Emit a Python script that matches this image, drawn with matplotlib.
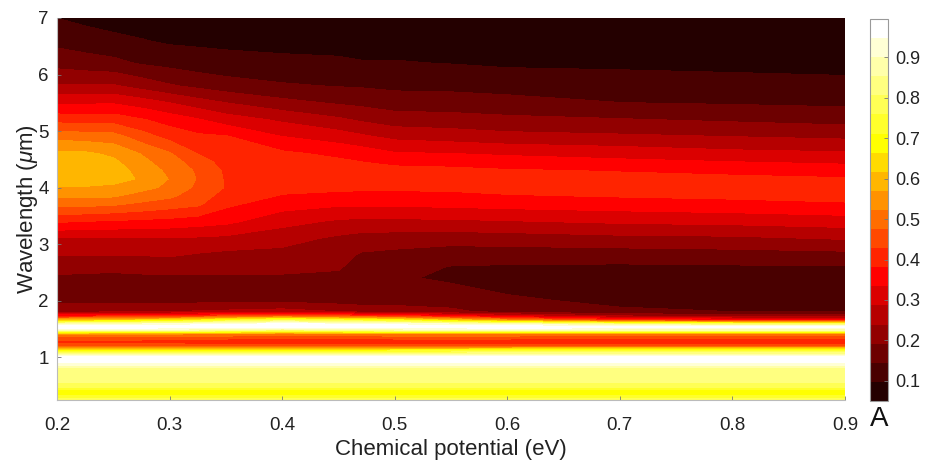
import numpy as np
import matplotlib
matplotlib.use('Agg')
import matplotlib.pyplot as plt

plt.rcParams['font.family'] = ['Liberation Sans', 'DejaVu Sans']
plt.rcParams['mathtext.fontset'] = 'custom'
plt.rcParams['mathtext.it'] = 'Liberation Sans:italic'
plt.rcParams['mathtext.rm'] = 'Liberation Sans'

potential = [0.2, 0.225, 0.25, 0.275, 0.3, 0.325, 0.35, 0.4, 0.45, 0.47, 0.5, 0.55, 0.6, 0.7, 0.8, 0.9]
wavelength = [7.0, 6.6, 6.2, 5.8, 5.5, 5.2, 4.9, 4.6, 4.45, 4.3, 4.15, 4.0, 3.85, 3.7, 3.4, 3.1, 2.8, 2.6, 2.4, 2.2, 2.0,
              1.8, 1.72, 1.65, 1.58, 1.53, 1.48, 1.41, 1.34, 1.27, 1.2, 1.12, 1.05,
              1.0, 0.95, 0.88, 0.81, 0.65, 0.5, 0.43, 0.36, 0.29, 0.24]

A_020 = [.097, .13, .175, .243, .324, .41, .507, .58, .60, .615, .60, .568, .532, .49, .387, .283, .239, .208, .185, .165, .18,
         .23, .38, .60, .90, .99, .90, .54, .45, .41, .45, .66, .86]
A_0225 = [.085, .12, .165, .244, .327, .405, .50, .578, .595, .605, .60, .565, .53, .488, .38, .283, .239, .205, .183, .165, .178,
          .232, .39, .61, .91, .99, .89, .54, .45, .41, .45, .66, .86]
A_025 = [.075, .11, .157, .244, .329, .407, .495, .56, .58, .59, .585, .56, .528, .48, .375, .283, .239, .205, .18, .165, .175,
         .235, .40, .62, .91, .985, .89, .53, .45, .41, .45, .66, .86]
A_0275 = [.07, .10, .14, .22, .31, .385, .45, .52, .535, .555, .565, .54, .50, .465, .37, .284, .24, .208, .183, .165, .175,
          .237, .41, .64, .92, .985, .88, .53, .45, .41, .45, .66, .86]
A_030 = [.07, .09, .13, .197, .286, .36, .412, .48, .50, .51, .52, .51, .484, .45, .365, .284, .243, .21, .185, .165, .175,
         .24, .42, .65, .93, .98, .87, .53, .44, .41, .45, .66, .86]
A_0325 = [.068, .088, .12, .18, .26, .338, .39, .427, .45, .468, .472, .465, .45, .435, .356, .28, .233, .207, .185, .167, .177,
          .245, .43, .68, .94, .975, .86, .52, .44, .405, .44, .66, .86]
A_035 = [.065, .085, .115, .165, .239, .31, .385, .405, .41, .42, .423, .425, .41, .39, .345, .275, .225, .205, .185, .17, .18,
         .25, .45, .72, .95, .97, .84, .52, .44, .40, .44, .66, .86]
A_040 = [.065, .08, .11, .15, .206, .278, .334, .39, .402, .41, .408, .395, .377, .353, .303, .256, .224, .205, .185, .17, .18,
         .26, .48, .78, .97, .96, .80, .50, .43, .40, .44, .66, .86]
A_045 = [.065, .08, .105, .142, .186, .247, .31, .37, .39, .41, .41, .395, .364, .34, .279, .23, .21, .198, .18, .165, .17,
         .24, .45, .74, .96, .97, .83, .51, .43, .40, .44, .67, .86]
A_047 = [.065, .08, .10, .14, .18, .232, .295, .36, .382, .41, .405, .39, .366, .34, .275, .22, .185, .17, .158, .152, .165,
         .23, .44, .72, .95, .975, .84, .52, .43, .40, .44, .67, .86]
A_050 = [.065, .08, .10, .134, .169, .214, .274, .338, .365, .40, .398, .39, .365, .34, .276, .216, .178, .16, .152, .155, .17,
         .22, .42, .70, .94, .98, .86, .52, .44, .40, .44, .68, .86]
A_055 = [.06, .08, .096, .132, .167, .21, .265, .334, .36, .395, .395, .39, .37, .345, .278, .212, .165, .143, .135, .155, .175,
         .20, .37, .62, .92, .98, .87, .52, .44, .40, .44, .68, .86]
A_060 = [.06, .075, .09, .127, .16, .203, .254, .327, .355, .385, .395, .40, .376, .35, .283, .216, .165, .14, .125, .135, .155,
         .18, .32, .54, .90, .99, .88, .52, .44, .40, .44, .70, .86]
A_070 = [.06, .075, .088, .12, .145, .195, .247, .315, .345, .378, .395, .41, .384, .357, .294, .226, .165, .138, .12, .115, .13,
         .155, .25, .42, .83, .98, .86, .50, .43, .40, .44, .72, .86]
A_080 = [.06, .07, .085, .115, .14, .185, .239, .30, .335, .37, .39, .41, .39, .365, .30, .23, .17, .14, .12, .11, .12,
         .145, .22, .38, .80, .97, .86, .50, .43, .40, .44, .72, .86]
A_090 = [.055, .065, .08, .112, .135, .175, .23, .293, .325, .36, .385, .41, .395, .375, .31, .243, .175, .142, .12, .11, .12,
         .145, .22, .38, .80, .97, .86, .50, .43, .40, .44, .72, .86]
A_short = [.96, .995, .93, .84, .82, .80, .72, .66, .74, .80]

columns = [A_020, A_0225, A_025, A_0275, A_030, A_0325, A_035, A_040, A_045, A_047, A_050, A_055, A_060, A_070, A_080, A_090]

x_ticks = [0.2, 0.3, 0.4, 0.5, 0.6, 0.7, 0.8, 0.9]
y_ticks = [1, 2, 3, 4, 5, 6, 7]
cbar_ticks = [0.1, 0.2, 0.3, 0.4, 0.5, 0.6, 0.7, 0.8, 0.9]

levels = [.05, .0973, .1445, .1918, .239, .2863, .3335, .3808, .428, .4753, .5225,
          .5698, .617, .6643, .7115, .7588, .806, .8533, .9005, .9478, .995]
band_colors = ['#240000', '#490000', '#6d0000', '#920000', '#b60000', '#db0000', '#ff0000',
               '#ff2400', '#ff4900', '#ff6d00', '#ff9200', '#ffb600', '#ffdb00', '#ffff00',
               '#ffff2b', '#ffff55', '#ffff80', '#ffffaa', '#ffffd5', '#ffffff']

W, H = 925, 462
fig = plt.figure(figsize=(W / 100, H / 100), dpi=100)
ax = fig.add_axes([57 / W, 1 - 400 / H, (845 - 57) / W, (400 - 18) / H])
cax = fig.add_axes([870 / W, 1 - 401 / H, 18 / W, (401 - 19) / H])

Z = np.array([c + A_short for c in columns]).T
cf = ax.contourf(potential, wavelength, Z, levels=levels, colors=band_colors, extend='neither')

ax.set_xlim(0.2, 0.9)
ax.set_ylim(0.24, 7)
ax.set_xticks(x_ticks)
ax.set_yticks(y_ticks)
ax.tick_params(direction='in', length=3, width=0.6, color='#777777', labelsize=13.5,
               labelcolor='#222222')
ax.tick_params(axis='x', pad=12)
ax.tick_params(axis='y', pad=6)
for s in ax.spines.values():
    s.set_color('#bbbbbb')
    s.set_linewidth(0.8)
ax.spines['top'].set_visible(False)
ax.spines['right'].set_visible(False)
ax.set_xlabel('Chemical potential (eV)', fontsize=16, color='#222222', labelpad=4)
ax.set_ylabel('Wavelength ($\\mu$m)', fontsize=16, color='#222222', labelpad=-1)

cb = fig.colorbar(cf, cax=cax, ticks=cbar_ticks, spacing='proportional')
cb.ax.set_yticklabels(['0.1', '0.2', '0.3', '0.4', '0.5', '0.6', '0.7', '0.8', '0.9'])
cb.ax.tick_params(direction='in', length=3, width=0.6, color='#777777', labelsize=13,
                  labelcolor='#222222', pad=5)
cb.outline.set_edgecolor('#999999')
cb.outline.set_linewidth(0.8)
fig.text(879 / W, 1 - 419 / H, 'A', fontsize=20, color='#111111', ha='center', va='center')

fig.savefig('out.png', dpi=100)
